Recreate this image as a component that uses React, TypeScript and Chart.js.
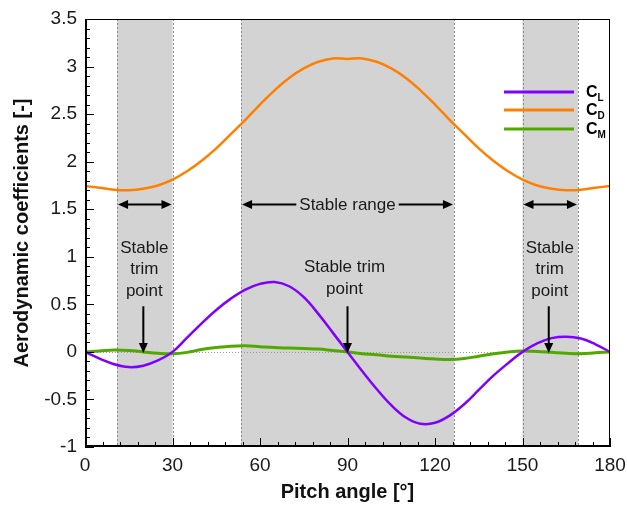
import React, { useEffect, useRef } from 'react';
import { Chart, registerables } from 'chart.js';

Chart.register(...registerables);

// ---- data ----
const angles = [0, 5, 10, 15, 20, 25, 30, 35, 40, 45, 50, 55, 60, 65, 70, 75, 80, 85, 90,
  95, 100, 105, 110, 115, 120, 125, 130, 135, 140, 145, 150, 155, 160, 165, 170, 175, 180];

const cl = [0, -0.07, -0.13, -0.16, -0.145, -0.09, 0.0, 0.15, 0.3, 0.44, 0.56, 0.655, 0.715, 0.735, 0.69, 0.575, 0.4, 0.2, 0,
  -0.2, -0.39, -0.56, -0.69, -0.755, -0.745, -0.67, -0.55, -0.4, -0.25, -0.12, 0, 0.09, 0.145, 0.16, 0.14, 0.08, 0];

const cd = [1.745, 1.725, 1.705, 1.7, 1.715, 1.75, 1.81, 1.9, 2.01, 2.14, 2.29, 2.44, 2.6, 2.75, 2.88, 2.98, 3.05, 3.085, 3.08,
  3.085, 3.05, 2.98, 2.88, 2.75, 2.6, 2.44, 2.29, 2.14, 2.01, 1.9, 1.81, 1.75, 1.715, 1.7, 1.705, 1.725, 1.745];

const cm = [0, 0.01, 0.02, 0.015, 0.0, -0.015, -0.02, -0.005, 0.025, 0.045, 0.06, 0.065, 0.055, 0.045, 0.04, 0.035, 0.03, 0.015, 0,
  -0.02, -0.03, -0.045, -0.055, -0.065, -0.075, -0.08, -0.07, -0.045, -0.02, 0.0, 0.01, 0.005, -0.005, -0.015, -0.02, -0.01, 0];

const seriesNames = ['L', 'D', 'M'];
const seriesColors = ['#8000ff', '#ff8000', '#52a800'];

const xTickValues = [0, 30, 60, 90, 120, 150, 180];
const yTickValues = [-1, -0.5, 0, 0.5, 1, 1.5, 2, 2.5, 3, 3.5];

const shadedRanges = [[11, 30], [53.5, 126.5], [150, 169]];
const rangeArrowY = 1.55;
const trimPoints = [20, 90, 159];
const trimArrowTop = 0.48;

const FONT = '"Liberation Sans", Arial, sans-serif';

function arrowHead(ctx: CanvasRenderingContext2D, tx: number, ty: number, dx: number, dy: number) {
  const len = 10, half = 4.5;
  const px = -dy, py = dx;
  ctx.beginPath();
  ctx.moveTo(tx, ty);
  ctx.lineTo(tx - dx * len + px * half, ty - dy * len + py * half);
  ctx.lineTo(tx - dx * len - px * half, ty - dy * len - py * half);
  ctx.closePath();
  ctx.fill();
}

const overlayPlugin = {
  id: 'overlay',
  beforeDatasetsDraw(chart: any) {
    const { ctx, chartArea: a, scales } = chart;
    const x = scales.x, y = scales.y;
    ctx.save();
    ctx.fillStyle = '#d3d3d3';
    for (const [s, e] of shadedRanges) {
      const x0 = x.getPixelForValue(s), x1 = x.getPixelForValue(e);
      ctx.fillRect(x0, a.top, x1 - x0, a.bottom - a.top);
    }
    ctx.strokeStyle = '#8a8a8a';
    ctx.lineWidth = 1;
    ctx.setLineDash([2, 2]);
    for (const [s, e] of shadedRanges) {
      for (const v of [s, e]) {
        const px = Math.round(x.getPixelForValue(v)) + 0.5;
        ctx.beginPath();
        ctx.moveTo(px, a.top);
        ctx.lineTo(px, a.bottom);
        ctx.stroke();
      }
    }
    ctx.setLineDash([1, 2]);
    ctx.strokeStyle = '#9a9a9a';
    const y0 = Math.round(y.getPixelForValue(0)) + 0.5;
    ctx.beginPath();
    ctx.moveTo(a.left, y0);
    ctx.lineTo(a.right, y0);
    ctx.stroke();
    ctx.restore();
  },
  afterDatasetsDraw(chart: any) {
    const { ctx, chartArea: a, scales } = chart;
    const x = scales.x, y = scales.y;
    ctx.save();
    // frame
    ctx.strokeStyle = '#000';
    ctx.lineWidth = 1;
    ctx.strokeRect(a.left + 0.5, a.top + 0.5, a.right - a.left - 1, a.bottom - a.top - 1);
    ctx.lineWidth = 2;
    ctx.beginPath();
    ctx.moveTo(a.left + 1, a.top);
    ctx.lineTo(a.left + 1, a.bottom - 1);
    ctx.lineTo(a.right, a.bottom - 1);
    ctx.stroke();
    // inward ticks
    ctx.lineWidth = 1;
    for (let i = 0; i <= 45; i++) {
      const v = -1 + i * 0.1;
      const py = Math.round(y.getPixelForValue(v)) + 0.5;
      const len = i % 5 === 0 ? 8 : 4;
      ctx.beginPath();
      ctx.moveTo(a.left, py);
      ctx.lineTo(a.left + 1 + len, py);
      ctx.stroke();
    }
    for (let i = 0; i <= 30; i++) {
      const v = i * 6;
      const px = Math.round(x.getPixelForValue(v)) + 0.5;
      const len = i % 5 === 0 ? 8 : 4;
      ctx.beginPath();
      ctx.moveTo(px, a.bottom);
      ctx.lineTo(px, a.bottom - 1 - len);
      ctx.stroke();
    }
    // range arrows
    ctx.strokeStyle = '#000';
    ctx.fillStyle = '#000';
    ctx.lineWidth = 2;
    const ay = y.getPixelForValue(rangeArrowY);
    ctx.font = `17px ${FONT}`;
    ctx.textAlign = 'center';
    ctx.textBaseline = 'middle';
    shadedRanges.forEach(([s, e], idx) => {
      const x0 = x.getPixelForValue(s) + 1, x1 = x.getPixelForValue(e) - 1;
      if (idx === 1) {
        const label = 'Stable range';
        const cx = x.getPixelForValue(90);
        const w = ctx.measureText(label).width;
        ctx.beginPath();
        ctx.moveTo(x0 + 4, ay); ctx.lineTo(cx - w / 2 - 3, ay);
        ctx.moveTo(cx + w / 2 + 3, ay); ctx.lineTo(x1 - 4, ay);
        ctx.stroke();
        ctx.fillStyle = '#1a1a1a';
        ctx.fillText(label, cx, ay + 1);
        ctx.fillStyle = '#000';
      } else {
        ctx.beginPath();
        ctx.moveTo(x0 + 4, ay); ctx.lineTo(x1 - 4, ay);
        ctx.stroke();
      }
      arrowHead(ctx, x0, ay, -1, 0);
      arrowHead(ctx, x1, ay, 1, 0);
    });
    // trim point labels + arrows
    const lineGap = 21.5;
    trimPoints.forEach((tp, idx) => {
      const px = x.getPixelForValue(tp);
      const top = y.getPixelForValue(trimArrowTop);
      const tip = y.getPixelForValue(0);
      ctx.beginPath();
      ctx.moveTo(px, top); ctx.lineTo(px, tip - 6);
      ctx.stroke();
      arrowHead(ctx, px, tip + 1, 0, 1);
      ctx.fillStyle = '#1a1a1a';
      if (idx === 1) {
        const lines = ['Stable trim', 'point'];
        const cx = px - 3;
        lines.forEach((t, i) => ctx.fillText(t, cx, top - 17 - (lines.length - 1 - i) * lineGap));
      } else {
        const lines = ['Stable', 'trim', 'point'];
        const cx = px + 1;
        lines.forEach((t, i) => ctx.fillText(t, cx, top - 15 - (lines.length - 1 - i) * lineGap));
      }
      ctx.fillStyle = '#000';
    });
    // legend
    const lx0 = 504, lx1 = 574, ly = [92, 110, 129];
    seriesNames.forEach((n, i) => {
      ctx.strokeStyle = seriesColors[i];
      ctx.lineWidth = 3;
      ctx.beginPath();
      ctx.moveTo(lx0, ly[i]); ctx.lineTo(lx1, ly[i]);
      ctx.stroke();
      ctx.fillStyle = '#000';
      ctx.textAlign = 'left';
      ctx.textBaseline = 'middle';
      ctx.font = `bold 16px ${FONT}`;
      ctx.fillText('C', 586, ly[i] + 1);
      const cw = ctx.measureText('C').width;
      ctx.font = `bold 10px ${FONT}`;
      ctx.fillText(n, 586 + cw, ly[i] + 6);
    });
    ctx.restore();
  },
};

export default function App() {
  const ref = useRef<HTMLCanvasElement | null>(null);
  useEffect(() => {
    document.body.style.margin = '0';
    const canvas = ref.current!;
    const mk = (label: string, vals: number[], color: string, w: number) => ({
      label,
      data: angles.map((a, i) => ({ x: a, y: vals[i] })),
      borderColor: color,
      borderWidth: w,
      pointRadius: 0,
      tension: 0.4,
      fill: false,
    });
    const chart = new Chart(canvas, {
      type: 'line',
      data: {
        datasets: [
          mk('CL', cl, seriesColors[0], 2.5),
          mk('CD', cd, seriesColors[1], 2.5),
          mk('CM', cm, seriesColors[2], 3),
        ],
      },
      options: {
        responsive: false,
        animation: false,
        layout: { padding: { top: 19, right: 17, left: 0, bottom: 0 } },
        plugins: { legend: { display: false }, tooltip: { enabled: false } },
        scales: {
          x: {
            type: 'linear',
            min: 0,
            max: 180,
            afterBuildTicks: (s: any) => { s.ticks = xTickValues.map((v) => ({ value: v })); },
            ticks: { color: '#1a1a1a', font: { family: FONT, size: 19 }, padding: 7, maxRotation: 0, callback: (v: any) => String(v) },
            grid: { display: false, drawTicks: false },
            border: { display: false },
            title: { display: true, text: 'Pitch angle [°]', color: '#111', font: { family: FONT, size: 20, weight: 'bold' }, padding: { top: 0, bottom: 1 } },
            afterFit: (s: any) => { s.height = 58; s.paddingLeft = 0; s.paddingRight = 0; },
          },
          y: {
            type: 'linear',
            min: -1,
            max: 3.5,
            afterBuildTicks: (s: any) => { s.ticks = yTickValues.map((v) => ({ value: v })); },
            ticks: { color: '#1a1a1a', font: { family: FONT, size: 19 }, padding: 8, callback: (v: any) => String(v) },
            grid: { display: false, drawTicks: false },
            border: { display: false },
            title: { display: true, text: 'Aerodynamic coefficients [-]', color: '#111', font: { family: FONT, size: 20, weight: 'bold' }, padding: { top: 10, bottom: 0 } },
            afterFit: (s: any) => { s.width = 85; s.paddingTop = 0; s.paddingBottom = 0; },
          },
        },
      },
      plugins: [overlayPlugin],
    } as any);
    return () => chart.destroy();
  }, []);
  return <canvas ref={ref} width={627} height={505} style={{ display: 'block' }} />;
}
